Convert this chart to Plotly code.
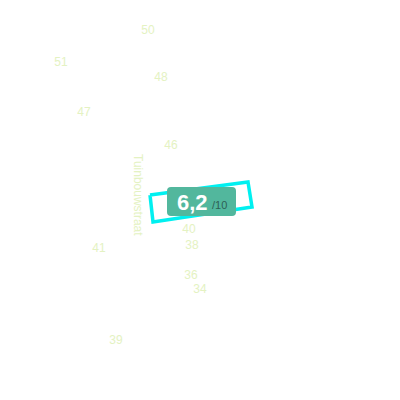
import plotly.graph_objects as go

# house numbers along the street (map pixel coordinates)
house_no = ["50", "51", "48", "47", "46", "40", "38", "41", "36", "34", "39"]
house_x = [147, 60, 160, 83, 170, 188, 191, 98, 190, 199, 115]
house_y = [29, 61, 76, 111, 144, 228, 244, 247, 274, 288, 339]

# selected parcel outline (closed polygon)
parcel_x = [149, 247, 251, 152, 149]
parcel_y = [193, 180, 205, 220, 193]

street_name = "Tuinbouwstraat"
score = "6,2"
score_max = "/10"

fig = go.Figure()

fig.add_trace(go.Scatter(
    x=parcel_x, y=parcel_y, mode="lines",
    line=dict(color="#00f0f0", width=3.5),
    hoverinfo="skip", showlegend=False,
))

fig.add_trace(go.Scatter(
    x=house_x, y=house_y, mode="text", text=house_no,
    textfont=dict(family="Liberation Sans, Arial", size=12, color="#e4f2c2"),
    hoverinfo="skip", showlegend=False,
))

# score badge
bx0, bx1, by0, by1, r = 166, 235, 185, 214, 4
fig.add_shape(
    type="path",
    path=(f"M {bx0+r},{by0} L {bx1-r},{by0} Q {bx1},{by0} {bx1},{by0+r} "
          f"L {bx1},{by1-r} Q {bx1},{by1} {bx1-r},{by1} L {bx0+r},{by1} "
          f"Q {bx0},{by1} {bx0},{by1-r} L {bx0},{by0+r} Q {bx0},{by0} {bx0+r},{by0} Z"),
    fillcolor="#52b79d", line=dict(width=0), layer="above",
)
fig.add_annotation(
    x=191, y=200, text=f"<b>{score}</b>", showarrow=False,
    font=dict(family="Liberation Sans, Arial", size=22, color="white"),
)
fig.add_annotation(
    x=218, y=203, text=score_max, showarrow=False,
    font=dict(family="Liberation Sans, Arial", size=11, color="#2f5f55"),
)

fig.add_annotation(
    x=137, y=193, text=street_name, showarrow=False, textangle=90,
    font=dict(family="Liberation Sans, Arial", size=12, color="#e4f2c2"),
)

# page body margin pushes the plot by a few pixels, so offset the ranges
fig.update_xaxes(range=[7, 407], visible=False)
fig.update_yaxes(range=[406, 6], visible=False)
fig.update_layout(
    width=400, height=400,
    margin=dict(l=0, r=0, t=0, b=0),
    paper_bgcolor="white", plot_bgcolor="white",
)

fig.write_html("out.html")
